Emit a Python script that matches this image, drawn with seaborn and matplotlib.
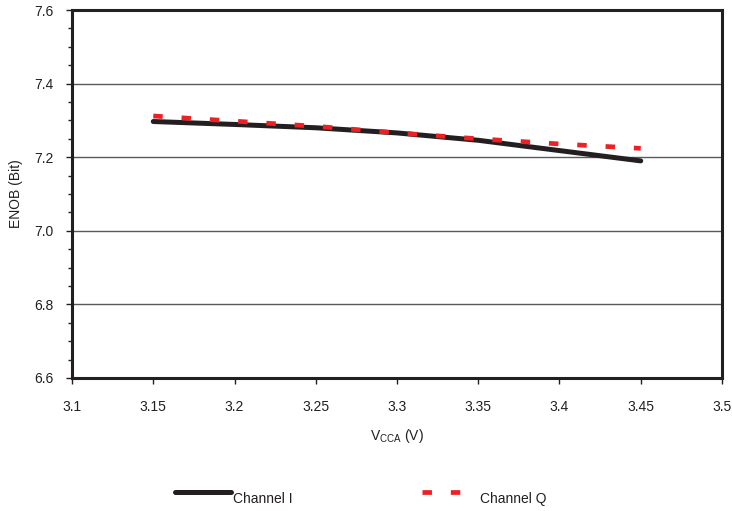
import matplotlib
matplotlib.use("Agg")
import numpy as np
import pandas as pd
import seaborn as sns
from matplotlib import pyplot as plt
from matplotlib.lines import Line2D
from matplotlib.ticker import MultipleLocator

vcca = [3.15, 3.20, 3.25, 3.30, 3.35, 3.40, 3.45]
enob_i = [7.297, 7.289, 7.280, 7.266, 7.246, 7.218, 7.190]
enob_q = [7.312, 7.298, 7.284, 7.266, 7.250, 7.236, 7.224]
x_ticks = [3.1, 3.15, 3.2, 3.25, 3.3, 3.35, 3.4, 3.45, 3.5]
y_ticks = [6.6, 6.8, 7.0, 7.2, 7.4, 7.6]

sns.set_theme(style="white")
plt.rcParams['font.family'] = ['Liberation Sans', 'DejaVu Sans']

fig = plt.figure(figsize=(7.32, 5.11), dpi=100)
ax = fig.add_axes([0.0984, 0.2603, 0.8879, 0.7201])

df_i = pd.DataFrame({'x': vcca, 'y': enob_i})
df_q = pd.DataFrame({'x': vcca, 'y': enob_q})
sns.lineplot(x='x', y='y', data=df_i, ax=ax, color='#231f20', lw=3.6,
             solid_capstyle='round', zorder=3)
sns.lineplot(x='x', y='y', data=df_q, ax=ax, color='#ed2024', lw=3.4,
             zorder=4)
ax.lines[1].set_dashes((2, 4))

ax.set_xlim(3.1, 3.5)
ax.set_ylim(6.6, 7.6)
ax.set_xticks(x_ticks)
ax.set_xticklabels([f"{t:g}" for t in x_ticks])
ax.set_yticks(y_ticks)
ax.set_yticklabels([f"{t:.1f}" for t in y_ticks])
ax.yaxis.set_minor_locator(MultipleLocator(0.05))
ax.tick_params(axis='both', which='major', direction='out', length=4, width=1,
               color='#231f20', labelsize=10, labelcolor='#231f20')
ax.tick_params(axis='x', pad=12, bottom=True)
ax.tick_params(axis='y', pad=9, left=True)
ax.tick_params(axis='y', which='minor', direction='out', length=3, width=1,
               color='#231f20', left=True)
ax.grid(axis='y', which='major', color='#5a5a5a', lw=1)
ax.grid(axis='x', visible=False)
for s in ax.spines.values():
    s.set_linewidth(2.2)
    s.set_color('#231f20')

ax.set_xlabel(r"V$_{\mathregular{CCA}}$ (V)", fontsize=10, color='#231f20', labelpad=9)
ax.set_ylabel("ENOB (Bit)", fontsize=10, color='#231f20', labelpad=8)

h_i = Line2D([], [], color='#231f20', lw=3.6, solid_capstyle='round')
h_q = Line2D([], [], color='#ed2024', lw=3.4, dashes=(2, 4))
leg_kw = dict(frameon=False, fontsize=10, handlelength=4.0, handletextpad=0.2,
              borderpad=0, borderaxespad=0, labelcolor='#231f20', loc='center left')
fig.legend([h_i], ["\nChannel I"], bbox_to_anchor=(175 / 732, 1 - 491 / 511), **leg_kw)
fig.legend([h_q], ["\nChannel Q"], bbox_to_anchor=(422 / 732, 1 - 491 / 511), **leg_kw)

fig.savefig("out.png", dpi=100)
plt.close()
